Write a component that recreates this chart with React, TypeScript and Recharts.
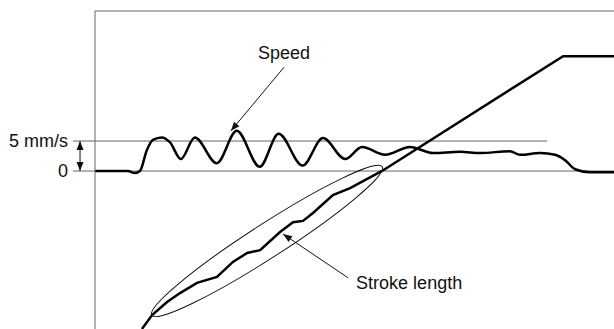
import { ComposedChart, Line, XAxis, YAxis, ReferenceLine, ReferenceDot } from 'recharts';

// time axis (arbitrary units), speed in mm/s, stroke length in % of travel
const speedTime = [0, 16.5, 20, 22.5, 26, 29, 33.5, 37.5, 43, 50, 61, 71, 82.5, 92, 104, 114.2, 125.3, 133.8, 145.3, 157.8, 169.3, 182.9, 192.9, 207.9, 212.9, 222.9, 230.5, 235.5, 240.5, 248, 260];
const speedValue = [0, 0, -0.35, 0, 3.5, 5.2, 5.6, 4.8, 2, 5.6, 1.3, 6.7, 0.7, 6.2, 0.9, 5.5, 2, 4, 2.7, 4, 3, 3.2, 3, 3.3, 2.7, 3, 2.7, 1.8, 0.3, -0.2, -0.2];

const strokeTime = [23.5, 28.6, 36.1, 42.6, 51.1, 61.1, 69.1, 76.2, 82.7, 92.7, 99.2, 104.2, 109.2, 119.2, 127.8, 143.8, 234.5, 260];
const strokeValue = [0, 4.4, 8.5, 11.3, 14.5, 16.4, 21.1, 23.9, 24.8, 30.5, 33.6, 34, 36.5, 42.1, 44.3, 49.7, 85.8, 85.8];

const speedTicks = [0, 5];
const speedTickLabels = ['0', '5 mm/s'];
const speedTop = 26.67;

const speedData = speedTime.map((t, i) => ({ t, speed: speedValue[i] }));
const strokeData = strokeTime.map((t, i) => ({ t, stroke: strokeValue[i] }));

const FONT = '"Liberation Sans", Arial, sans-serif';
const GRID = '#666';

const head = (x1: number, y1: number, x2: number, y2: number, len = 9, w = 3.5) => {
  const a = Math.atan2(y2 - y1, x2 - x1);
  const bx = x2 - len * Math.cos(a);
  const by = y2 - len * Math.sin(a);
  const px = -Math.sin(a) * w;
  const py = Math.cos(a) * w;
  return `${x2},${y2} ${bx + px},${by + py} ${bx - px},${by - py}`;
};

const arrowShape = (both: boolean) => (props: any) => {
  const { x1, y1, x2, y2 } = props;
  return (
    <g>
      <line x1={x1} y1={y1} x2={x2} y2={y2} stroke="#111" strokeWidth={1} />
      <polygon points={head(x1, y1, x2, y2)} fill="#111" />
      {both && <polygon points={head(x2, y2, x1, y1)} fill="#111" />}
    </g>
  );
};

const textShape = (label: string, anchor: 'start' | 'middle') => (props: any) => (
  <text x={props.cx} y={props.cy} textAnchor={anchor} dominantBaseline="central" fontSize={18} fontFamily={FONT} fill="#111">
    {label}
  </text>
);

const ellipseShape = (props: any) => (
  <ellipse cx={props.cx} cy={props.cy} rx={137} ry={17} transform={`rotate(-32.8 ${props.cx} ${props.cy})`} fill="none" stroke="#111" strokeWidth={1} />
);

export default function App() {
  return (
    <div style={{ position: 'absolute', left: 0, top: 0, background: '#fff' }}>
      <ComposedChart width={614} height={329} margin={{ top: 11, right: 0, bottom: 0, left: 0 }} style={{ fontFamily: FONT }}>
        <XAxis xAxisId="t" type="number" dataKey="t" domain={[0, 260]} allowDataOverflow hide />
        <YAxis
          yAxisId="speed"
          type="number"
          domain={[-26.33, speedTop]}
          allowDataOverflow
          ticks={speedTicks}
          tickFormatter={(v) => speedTickLabels[speedTicks.indexOf(v)]}
          width={95}
          tickSize={22}
          tickMargin={5}
          tickLine={{ stroke: GRID }}
          axisLine={{ stroke: GRID }}
          tick={{ fill: '#111', fontSize: 18, fontFamily: FONT }}
        />
        <YAxis yAxisId="stroke" type="number" domain={[0, 100]} hide />

        <ReferenceLine xAxisId="t" yAxisId="speed" y={speedTop} stroke={GRID} ifOverflow="visible" />
        <ReferenceLine xAxisId="t" yAxisId="speed" y={0} stroke={GRID} />
        <ReferenceLine xAxisId="t" yAxisId="speed" segment={[{ x: 0, y: 5 }, { x: 226.5, y: 5 }]} stroke={GRID} />

        <Line xAxisId="t" yAxisId="speed" data={speedData} dataKey="speed" type="monotone" stroke="#000" strokeWidth={2.5} dot={false} isAnimationActive={false} />
        <Line xAxisId="t" yAxisId="stroke" data={strokeData} dataKey="stroke" type="linear" stroke="#000" strokeWidth={2.5} dot={false} isAnimationActive={false} />

        <ReferenceDot xAxisId="t" yAxisId="stroke" x={86.2} y={27.7} shape={ellipseShape} ifOverflow="visible" />

        <ReferenceLine xAxisId="t" yAxisId="speed" segment={[{ x: -7.5, y: 0 }, { x: -7.5, y: 5 }]} shape={arrowShape(true)} ifOverflow="visible" />
        <ReferenceLine xAxisId="t" yAxisId="speed" segment={[{ x: 94.7, y: 17.3 }, { x: 68.1, y: 6.7 }]} shape={arrowShape(false)} ifOverflow="visible" />
        <ReferenceLine xAxisId="t" yAxisId="speed" segment={[{ x: 126.8, y: -17.8 }, { x: 94.2, y: -10.5 }]} shape={arrowShape(false)} ifOverflow="visible" />

        <ReferenceDot xAxisId="t" yAxisId="speed" x={94.7} y={19.7} shape={textShape('Speed', 'middle')} ifOverflow="visible" />
        <ReferenceDot xAxisId="t" yAxisId="speed" x={130.8} y={-18.7} shape={textShape('Stroke length', 'start')} ifOverflow="visible" />
      </ComposedChart>
    </div>
  );
}
